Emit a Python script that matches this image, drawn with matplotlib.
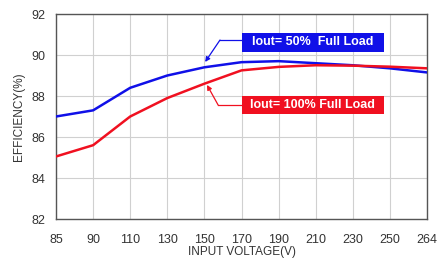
import matplotlib
matplotlib.use("Agg")
import matplotlib.pyplot as plt
from matplotlib.patches import Rectangle

plt.rcParams['font.family'] = ['Liberation Sans', 'DejaVu Sans']

voltages = ["85", "90", "110", "130", "150", "170", "190", "210", "230", "250", "264"]
eff_50 = [87.0, 87.3, 88.4, 89.0, 89.4, 89.65, 89.7, 89.6, 89.5, 89.35, 89.15]
eff_100 = [85.05, 85.6, 87.0, 87.9, 88.6, 89.25, 89.42, 89.5, 89.48, 89.43, 89.35]
yticks = [82, 84, 86, 88, 90, 92]
label_50 = "Iout= 50%  Full Load"
label_100 = "Iout= 100% Full Load"

fig = plt.figure(figsize=(4.41, 2.67), dpi=100)
ax = fig.add_axes([56/441, 1-219/267, (427-56)/441, (219-14)/267])
x = list(range(len(voltages)))
ax.plot(x, eff_50, color='#1010e8', lw=1.8, zorder=3)
ax.plot(x, eff_100, color='#f01020', lw=1.8, zorder=3)
ax.set_xlim(0, len(voltages)-1)
ax.set_ylim(82, 92)
ax.set_xticks(x)
ax.set_xticklabels(voltages)
ax.set_yticks(yticks)
ax.grid(True, color='#d0d0d0', lw=0.8)
ax.tick_params(axis='y', length=0, labelsize=9, colors='#333333', pad=8)
ax.tick_params(axis='x', length=0, labelsize=9, colors='#333333', pad=11)
for s in ax.spines.values():
    s.set_color('#555555')
    s.set_linewidth(1.0)
ax.set_xlabel("INPUT VOLTAGE(V)", fontsize=8.5, color='#333333', labelpad=0)
ax.set_ylabel("EFFICIENCY(%)", fontsize=8.5, color='#333333', labelpad=4)

boxes = [
    (label_50, '#1010e8', 90.15, [(4.02, 89.66), (4.42, 90.73), (5.01, 90.73)]),
    (label_100, '#f01020', 87.1, [(4.07, 88.54), (4.37, 87.56), (5.01, 87.56)]),
]
for text, col, ybot, pts in boxes:
    ax.add_patch(Rectangle((5.01, ybot), 3.83, 0.92, fc=col, ec='none', zorder=4))
    ax.text(5.01 + 3.83/2, ybot + 0.46, text, color='white', fontsize=9,
            fontweight='bold', ha='center', va='center', zorder=5)
    xs = [p[0] for p in pts]
    ys = [p[1] for p in pts]
    ax.plot(xs[1:], ys[1:], color=col, lw=0.9, zorder=4)
    ax.annotate("", xy=pts[0], xytext=pts[1],
                arrowprops=dict(arrowstyle='-|>', color=col, lw=0.9,
                                mutation_scale=7, shrinkA=0, shrinkB=0), zorder=4)

fig.savefig("out.png", dpi=100)
